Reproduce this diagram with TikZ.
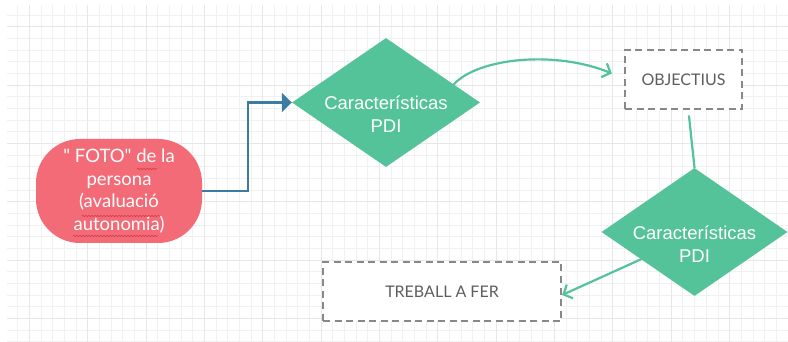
\documentclass[tikz,border=0pt]{standalone}
\usepackage{fontspec}
\setmainfont{Lato}[Ligatures=TeXOff]
\newfontfamily\diafont{Liberation Sans}
\usetikzlibrary{arrows.meta,positioning,shapes.geometric,decorations.pathmorphing}
\definecolor{fotored}{HTML}{F46B78}
\definecolor{pdigreen}{HTML}{55C39A}
\definecolor{linkblue}{HTML}{3B7BA4}
\definecolor{boxgray}{HTML}{888888}
\definecolor{textgray}{HTML}{5E5E5E}
\definecolor{gridminor}{HTML}{F1F1F1}
\definecolor{gridmajor}{HTML}{E7E7E7}
\definecolor{squiggle}{HTML}{D63A4E}
\tikzset{
  photo/.style={rectangle, fill=fotored, text=white, rounded corners=44pt,
    minimum width=166pt, minimum height=104pt, align=center,
    font=\fontsize{18.5}{22.5}\selectfont},
  pdi/.style={diamond, fill=pdigreen, inner sep=0pt,
    label={[pditext]center:#1}},
  pditext/.style={text=white, align=center, yshift=-12pt,
    font=\diafont\fontsize{18.5}{23}\selectfont},
  goalbox/.style={rectangle, draw=boxgray, fill=white, text=textgray,
    line width=2.2pt, dash pattern=on 7pt off 4.5pt, minimum height=59pt,
    font=\fontsize{16}{19}\selectfont},
  greenlink/.style={draw=pdigreen, line width=2.2pt, line cap=round},
  bluelink/.style={draw=linkblue, line width=2.2pt},
  spellmark/.style={draw=squiggle, line width=0.6pt,
    decorate, decoration={snake, segment length=3pt, amplitude=0.7pt}}
}
\begin{document}
\begin{tikzpicture}[x=1pt,y=-1pt]
  \useasboundingbox (0,0) rectangle (788,342);
  \fill[white] (0,0) rectangle (788,342);
  \foreach \i in {0,...,66}
    \draw[gridminor, line width=0.8pt] ({17.7+11.67*\i},5) -- ({17.7+11.67*\i},342);
  \foreach \j in {0,...,28}
    \draw[gridminor, line width=0.8pt] (7,{15+11.67*\j}) -- (788,{15+11.67*\j});
  \foreach \i in {1,6,...,66}
    \draw[gridmajor, line width=0.8pt] ({17.7+11.67*\i},5) -- ({17.7+11.67*\i},342);
  \foreach \j in {1,6,...,26}
    \draw[gridmajor, line width=0.8pt] (7,{15+11.67*\j}) -- (788,{15+11.67*\j});

  \node[photo] (foto) at (119,191) {" FOTO" de la\\persona\\(avaluació\\autonomia)};
  \node[pdi={Características\\PDI}, minimum width=188pt, minimum height=129pt] (pdi1) at (386,102.5) {};
  \node[goalbox, minimum width=117pt] (obj) at (683.5,79.5) {OBJECTIUS};
  \node[pdi={Características\\PDI}, minimum width=186pt, minimum height=128pt] (pdi2) at (694.5,232) {};
  \node[goalbox, minimum width=238pt] (todo) at (442,291.5) {TREBALL A FER};

  \draw[spellmark] (137,169) -- (157,169);
  \draw[spellmark] (82,216) -- (160,216);
  \draw[spellmark] (73,236) -- (158,236);

  \draw[bluelink, -{Triangle[length=10pt,width=19pt]}]
    (foto.east) -- ++(46,0) |- (pdi1.west);
  \draw[greenlink, -{Straight Barb[length=7pt,width=15pt]}]
    (pdi1.15) .. controls (478,58) and (555,50) .. ([shift={(-12,-6)}]obj.west);
  \draw[greenlink] ([shift={(5.5,6)}]obj.south) -- (pdi2.north);
  \draw[greenlink, -{Straight Barb[length=7pt,width=15pt]}]
    (pdi2.207) -- ([shift={(0,3.5)}]todo.east);
\end{tikzpicture}
\end{document}
